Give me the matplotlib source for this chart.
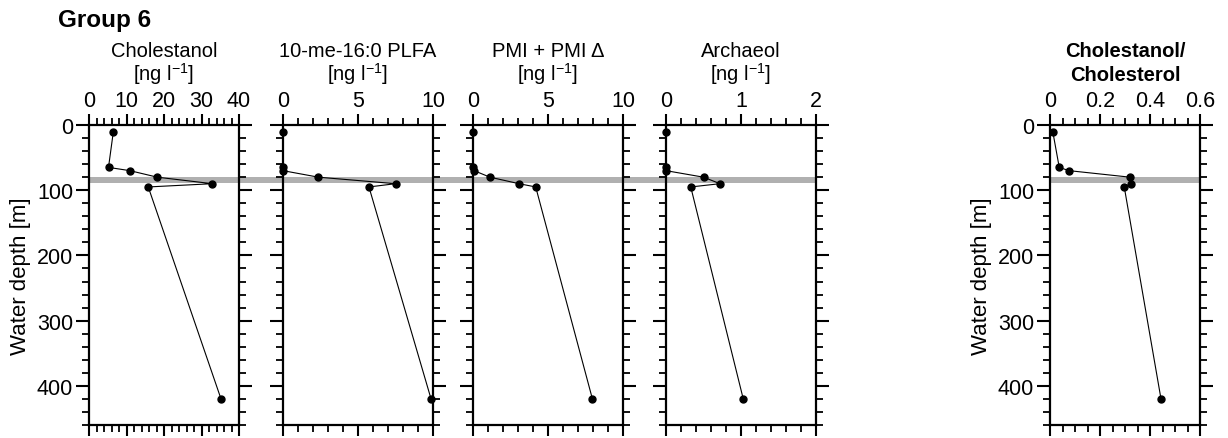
import numpy as np
import matplotlib.pyplot as plt
import matplotlib.transforms as mtransforms
from matplotlib.patches import Rectangle
from matplotlib.ticker import MultipleLocator

plt.rcParams['font.family'] = ['Liberation Sans', 'DejaVu Sans']
plt.rcParams['mathtext.default'] = 'regular'

# sample depths (m)
depth = [10, 65, 70, 80, 90, 95, 420]

cholestanol = [6.5, 5.2, 10.9, 18.2, 32.9, 15.8, 35.2]
plfa = [0.0, 0.0, 0.0, 2.36, 7.5, 5.73, 9.87]
pmi = [0.0, 0.0, 0.07, 1.13, 3.07, 4.18, 7.96]
archaeol = [0.0, 0.0, 0.0, 0.5, 0.72, 0.33, 1.03]
ratio = [0.011, 0.037, 0.076, 0.32, 0.324, 0.297, 0.444]

unit = "[ng l$^{-1}$]"
titles = [("Cholestanol", unit), ("10-me-16:0 PLFA", unit),
          ("PMI + PMI \u0394", unit), ("Archaeol", unit),
          ("Cholestanol/", "Cholesterol")]
series = [cholestanol, plfa, pmi, archaeol, ratio]
xmax = [40, 10, 10, 2, 0.6]
xmajor = [10, 5, 5, 1, 0.2]
xminor = [2, 1, 1, 0.2, 0.05]

band = (80, 89)   # grey horizon band
YMAX = 460

W, H = 1228, 439
fig = plt.figure(figsize=(W / 100, H / 100), dpi=100)

lefts = [89, 283, 473, 666, 1050]
pw, ph, bottom = 150, 300, 13

axes = []
for i, left in enumerate(lefts):
    ax = fig.add_axes([left / W, bottom / H, pw / W, ph / H])
    ax.set_facecolor('none')
    ax.plot(series[i], depth, '-', color='black', lw=0.8, zorder=3)
    ax.plot(series[i], depth, 'o', color='black', ms=5, zorder=4, clip_on=False)
    ax.set_xlim(0, xmax[i])
    ax.set_ylim(YMAX, 0)
    ax.xaxis.set_major_locator(MultipleLocator(xmajor[i]))
    ax.xaxis.set_minor_locator(MultipleLocator(xminor[i]))
    ax.yaxis.set_major_locator(MultipleLocator(100))
    ax.yaxis.set_minor_locator(MultipleLocator(20))
    ax.tick_params(axis='x', which='both', top=True, bottom=True,
                   labeltop=True, labelbottom=False, direction='out')
    ax.tick_params(axis='y', which='both', left=True, right=True,
                   labelleft=(i in (0, 4)), labelright=False, direction='out')
    ax.tick_params(which='major', width=1.5, labelsize=15.5)
    ax.tick_params(axis='x', which='major', length=8, pad=2)
    ax.tick_params(axis='y', which='major', length=9.5, pad=2)
    ax.tick_params(which='minor', length=5, width=1.3)
    ax.xaxis.set_major_formatter(plt.FuncFormatter(lambda v, p: f"{v:g}"))
    for s in ax.spines.values():
        s.set_linewidth(1.6)
    bold = 'bold' if i == 4 else 'normal'
    top_line, sub_line = titles[i]
    ax.text(0.5, 1.23, top_line, transform=ax.transAxes, ha='center',
            va='baseline', fontsize=14.5, fontweight=bold)
    ax.text(0.5, 1.15, sub_line, transform=ax.transAxes, ha='center',
            va='baseline', fontsize=14.5, fontweight=bold)
    if i in (0, 4):
        ax.set_ylabel("Water depth [m]", fontsize=16, labelpad=4)
    axes.append(ax)

# grey band: continuous across panels 1-4, separate on the ratio panel
tr = mtransforms.blended_transform_factory(fig.transFigure, axes[0].transData)
axes[0].add_patch(Rectangle((lefts[0] / W, band[0]), (lefts[3] + pw - lefts[0]) / W,
                            band[1] - band[0], transform=tr, color='#b0b0b0',
                            lw=0, zorder=1, clip_on=False))
axes[4].axhspan(band[0], band[1], color='#b0b0b0', lw=0, zorder=1)

fig.text(58 / W, 1 - 27 / H, "Group 6", fontsize=17.5, fontweight='bold',
         ha='left', va='baseline')

fig.savefig('out.png', dpi=100)
